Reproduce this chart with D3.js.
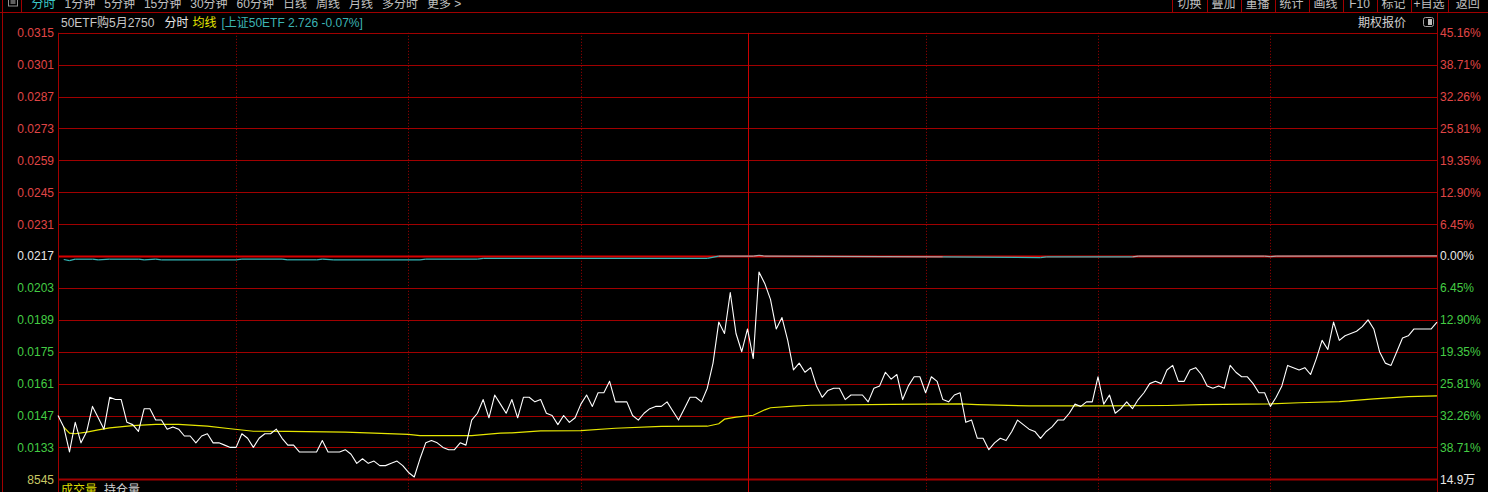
<!DOCTYPE html>
<html><head><meta charset="utf-8">
<script src="https://cdn.jsdelivr.net/npm/d3@7"></script>
<style>
html,body{margin:0;padding:0;background:#000;overflow:hidden}
svg{display:block;background:#000}
text{font-family:"Liberation Sans","Noto Sans CJK SC",Arial,sans-serif;font-size:12px}
</style></head><body>
<svg id="c" width="1488" height="492"></svg>
<script>
// ---------- data ----------
const prevClose = 0.0217;
const priceTicks = [0.0315,0.0301,0.0287,0.0273,0.0259,0.0245,0.0231,0.0217,0.0203,0.0189,0.0175,0.0161,0.0147,0.0133,0.0119];
const leftTickLabels = ["0.0315","0.0301","0.0287","0.0273","0.0259","0.0245","0.0231","0.0217","0.0203","0.0189","0.0175","0.0161","0.0147","0.0133","8545"];
const rightTickLabels = ["45.16%","38.71%","32.26%","25.81%","19.35%","12.90%","6.45%","0.00%","6.45%","12.90%","19.35%","25.81%","32.26%","38.71%","14.9万"];

// option price, one value per minute
const price = [
0.0147,0.0142,0.0131,0.0144,0.0135,0.0140,0.0151,0.0146,0.0141,0.0155,
0.0154,0.0154,0.0144,0.0143,0.0140,0.0150,0.0150,0.0145,0.0145,0.0141,
0.0142,0.0141,0.0138,0.0138,0.0135,0.0138,0.0139,0.0135,0.0135,0.0134,
0.0133,0.0133,0.0139,0.0137,0.0133,0.0137,0.0139,0.0139,0.0141,0.0137,
0.0134,0.0134,0.0131,0.0131,0.0131,0.0131,0.0136,0.0131,0.0131,0.0131,
0.0132,0.0130,0.0126,0.0128,0.0126,0.0127,0.0125,0.0125,0.0126,0.0127,
0.0125,0.0122,0.0120,0.0128,0.0135,0.0136,0.0135,0.0133,0.0132,0.0132,
0.0135,0.0134,0.0145,0.0148,0.0154,0.0146,0.0156,0.0152,0.0148,0.0154,
0.0146,0.0155,0.0155,0.0153,0.0154,0.0148,0.0147,0.0143,0.0147,0.0144,
0.0146,0.0152,0.0156,0.0151,0.0157,0.0157,0.0162,0.0153,0.0153,0.0153,
0.0147,0.0145,0.0148,0.0150,0.0151,0.0151,0.0153,0.0149,0.0145,0.0150,
0.0155,0.0155,0.0153,0.0159,0.0170,0.0188,0.0183,0.0201,0.0183,0.0175,
0.0185,0.0172,0.0210,0.0205,0.0198,0.0185,0.0190,0.0180,0.0167,0.0170,
0.0166,0.0168,0.0160,0.0155,0.0158,0.0159,0.0159,0.0154,0.0156,0.0156,
0.0156,0.0153,0.0159,0.0160,0.0166,0.0163,0.0165,0.0154,0.0160,0.0164,
0.0164,0.0157,0.0164,0.0162,0.0154,0.0153,0.0156,0.0157,0.0144,0.0145,
0.0137,0.0137,0.0132,0.0135,0.0137,0.0136,0.0140,0.0145,0.0143,0.0141,
0.0140,0.0137,0.0140,0.0142,0.0145,0.0145,0.0148,0.0152,0.0151,0.0153,
0.0153,0.0164,0.0152,0.0156,0.0148,0.0150,0.0153,0.0150,0.0154,0.0157,
0.0161,0.0162,0.0161,0.0167,0.0169,0.0162,0.0162,0.0167,0.0168,0.0165,
0.0160,0.0159,0.0160,0.0159,0.0169,0.0166,0.0164,0.0164,0.0161,0.0157,
0.0157,0.0151,0.0155,0.0160,0.0169,0.0168,0.0167,0.0168,0.0165,0.0172,
0.0180,0.0176,0.0188,0.0180,0.0182,0.0183,0.0184,0.0186,0.0189,0.0185,
0.0175,0.0170,0.0169,0.0175,0.0181,0.0182,0.0185,0.0185,0.0185,0.0185,
0.0188];

// average price line (minute, value)
const avgMinute = [1,2,3,5,7,9,13,17,21,26,30,34,40,50,55,61,63,72,77,79,84,91,97,105,113,115,116,118,121,123,124,128,131,145,157,160,169,182,193,199,211,216,223,229,235,240];
const avgPrice  = [0.01419,0.01393,0.01390,0.01397,0.01407,0.01416,0.01426,0.01431,0.01431,0.01423,0.01412,0.01401,0.01400,0.01397,0.01393,0.01387,0.01382,0.01382,0.01393,0.01394,0.01403,0.01404,0.01414,0.01422,0.01423,0.01434,0.01454,0.01463,0.01471,0.01495,0.01504,0.01511,0.01515,0.01519,0.01521,0.01518,0.01512,0.01512,0.01514,0.01518,0.01521,0.01526,0.01531,0.01543,0.01553,0.01556];

// underlying 50ETF (minute, value), prev close 2.728
const etfPrev = 2.728;
const etfMinute = [1,2,3,6,7,9,14,15,17,18,31,32,39,40,45,46,48,63,64,73,74,113,115,121,122,123,154,171,172,187,188,210,211,212,240];
const etfPrice  = [2.7257,2.7250,2.7259,2.7259,2.7255,2.7259,2.7259,2.7255,2.7259,2.7255,2.7255,2.7260,2.7260,2.7255,2.7255,2.7260,2.7255,2.7255,2.7260,2.7260,2.7264,2.7264,2.7280,2.7280,2.7284,2.7280,2.7274,2.7270,2.7274,2.7274,2.7280,2.7280,2.7276,2.7280,2.7281];

const gridMinutes = [31,61,91,151,181,211];
const sessionBreak = 120;

const toolbarLeft = ["分时","1分钟","5分钟","15分钟","30分钟","60分钟","日线","周线","月线","多分时","更多 >"];
const toolbarRight = ["切换","叠加","重播","统计","画线","F10","标记","+自选","返回"];
const headerParts = ["50ETF购5月2750","分时","均线","[上证50ETF 2.726 -0.07%]"];
const bottomLabels = ["成交量","持仓量"];

// ---------- drawing ----------
const W = 1488, H = 492;
const L = 58, R = 1437, TOP = 32.8, BOT = 479.3;
const svg = d3.select("#c");
const x = d3.scaleLinear().domain([0, 240]).range([L, R]);
const y = d3.scaleLinear().domain([0.0119, 0.0315]).range([BOT, TOP]);
const yEtf = d3.scaleLinear().domain([etfPrev - 0.008, etfPrev + 0.008]).range([y(prevClose) + 12, y(prevClose) - 12]);

const gridRed = "#a00000";
// frame lines
svg.append("line").attr("x1",0).attr("x2",W).attr("y1",12.5).attr("y2",12.5).attr("stroke",gridRed);
svg.append("line").attr("x1",2.5).attr("x2",2.5).attr("y1",0).attr("y2",H).attr("stroke",gridRed);
svg.append("line").attr("x1",21.5).attr("x2",21.5).attr("y1",0).attr("y2",12.5).attr("stroke",gridRed);

// horizontal grid
svg.append("g").selectAll("line").data(priceTicks).join("line")
  .attr("x1", L).attr("x2", R)
  .attr("y1", d => Math.round(y(d)) + 0.5).attr("y2", d => Math.round(y(d)) + 0.5)
  .attr("stroke", d => d === prevClose ? "#d80000" : gridRed)
  .attr("stroke-width", (d,i) => (d === prevClose || i === priceTicks.length - 1) ? 2 : 1);

// vertical grid
svg.append("g").selectAll("line").data(gridMinutes).join("line")
  .attr("x1", d => Math.round(x(d)) + 0.5).attr("x2", d => Math.round(x(d)) + 0.5)
  .attr("y1", TOP).attr("y2", H)
  .attr("stroke", gridRed).attr("stroke-dasharray", "1,2");
svg.append("line")
  .attr("x1", Math.round(x(sessionBreak)) + 0.5).attr("x2", Math.round(x(sessionBreak)) + 0.5)
  .attr("y1", TOP).attr("y2", H).attr("stroke", "#c80000");

// axis lines
svg.append("line").attr("x1",L+0.5).attr("x2",L+0.5).attr("y1",TOP).attr("y2",H).attr("stroke",gridRed);
svg.append("line").attr("x1",R+0.5).attr("x2",R+0.5).attr("y1",12.5).attr("y2",H).attr("stroke",gridRed);

// axes labels
function labelColor(d, i) {
  if (i === priceTicks.length - 1) return null;
  if (Math.abs(d - prevClose) < 1e-9) return "#e8e8e8";
  return d > prevClose ? "#e04646" : "#44cc44";
}
const axL = svg.append("g").attr("transform", `translate(${L},0)`)
  .call(d3.axisLeft(y).tickValues(priceTicks).tickSize(0).tickPadding(4).tickFormat((d,i) => leftTickLabels[i]));
axL.select(".domain").remove();
axL.attr("font-family", null).attr("font-size", null);
axL.selectAll("text").attr("fill", (d,i) => labelColor(d,i) || "#c8c864");

const axR = svg.append("g").attr("transform", `translate(${R},0)`)
  .call(d3.axisRight(y).tickValues(priceTicks).tickSize(0).tickPadding(3).tickFormat((d,i) => rightTickLabels[i]));
axR.select(".domain").remove();
axR.attr("font-family", null).attr("font-size", null);
axR.selectAll("text").attr("fill", (d,i) => labelColor(d,i) || "#e8e8e8");

// ETF line, coloured by side of previous close
const etfPts = etfMinute.map((m,i) => [m, etfPrice[i]]);
const segLine = d3.line().x(d => x(d[0])).y(d => yEtf(d[1]));
for (let i = 0; i < etfPts.length - 1; i++) {
  const a = etfPts[i], b = etfPts[i+1];
  const below = (a[1] + b[1]) / 2 < etfPrev - 0.0003;
  svg.append("path").attr("d", segLine([a, b])).attr("fill", "none")
    .attr("stroke", below ? "#33b8b8" : "#a8a8a8").attr("stroke-width", 1.2);
}

// average line
svg.append("path")
  .datum(avgMinute.map((m,i) => [m, avgPrice[i]]))
  .attr("fill","none").attr("stroke","#e6e600").attr("stroke-width",1.2)
  .attr("d", d3.line().x(d => x(d[0])).y(d => y(d[1])));

// price line
svg.append("path")
  .datum(price)
  .attr("fill","none").attr("stroke","#ffffff").attr("stroke-width",1.1).attr("stroke-linejoin","round")
  .attr("d", d3.line().x((d,i) => x(i)).y(d => y(d)));

// toolbar left
svg.append("rect").attr("x",8.5).attr("y",-2).attr("width",9).attr("height",8).attr("fill","none").attr("stroke","#909090");
svg.append("rect").attr("x",10.5).attr("y",-1).attr("width",5).attr("height",5).attr("fill","#606060");
let tx = 31.5;
toolbarLeft.forEach((t, i) => {
  const el = svg.append("text").attr("x", tx).attr("y", 7.5).attr("fill", i === 0 ? "#3cc8c8" : "#c0c0c0").text(t);
  tx += el.node().getComputedTextLength() + 9;
});
// toolbar right
let rx = 1172.5;
svg.append("line").attr("x1",rx).attr("x2",rx).attr("y1",0).attr("y2",12.5).attr("stroke",gridRed);
toolbarRight.forEach((t, i) => {
  const tmp = svg.append("text").attr("y", 7.5).attr("fill", "#c0c0c0").text(t);
  const w = tmp.node().getComputedTextLength();
  const cw = i === toolbarRight.length - 1 ? (W - rx) : Math.max(34, w + 6);
  tmp.attr("x", rx + cw/2).attr("text-anchor","middle");
  rx += cw;
  if (i < toolbarRight.length - 1)
    svg.append("line").attr("x1",Math.round(rx)+0.5).attr("x2",Math.round(rx)+0.5).attr("y1",0).attr("y2",12.5).attr("stroke",gridRed);
});

// header
const hdr = svg.append("text").attr("x", 61).attr("y", 27);
const hdrColors = ["#c8c8c8","#e8e8e8","#e6e600","#3cb4b4"];
const hdrGaps = [0, 10, 4, 5];
headerParts.forEach((t,i) => hdr.append("tspan").attr("dx", hdrGaps[i]).attr("fill", hdrColors[i]).text(t));
svg.append("text").attr("x", 1358).attr("y", 27).attr("fill","#d0d0d0").text("期权报价");
svg.append("rect").attr("x",1423.5).attr("y",17.5).attr("width",10).attr("height",9).attr("rx",2).attr("fill","none").attr("stroke","#a0a0a0");
svg.append("rect").attr("x",1428).attr("y",19).attr("width",4).attr("height",6).attr("fill","#c0c0c0");

// bottom pane labels
svg.append("text").attr("x",61).attr("y",494).attr("fill","#dcdc00").text(bottomLabels[0]);
svg.append("text").attr("x",104).attr("y",494).attr("fill","#d0d0d0").text(bottomLabels[1]);
</script>
</body></html>
